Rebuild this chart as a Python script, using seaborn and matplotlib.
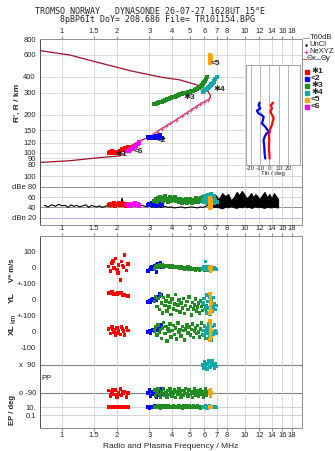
# Dynasonde ionogram: echo traces, amplitudes and echo parameters vs frequency
import numpy as np
import pandas as pd
import matplotlib
matplotlib.use("Agg")
import matplotlib.pyplot as plt
import seaborn as sns
from matplotlib.ticker import FixedLocator, NullLocator

## Data
# frequency axis ticks (MHz)
freq_ticks = [1, 1.5, 2, 3, 4, 5, 6, 7, 8, 10, 12, 14, 16, 18]
freq_labels = ["1", "1.5", "2", "3", "4", "5", "6", "7", "8", "10", "12", "14", "16", "18"]

# model profile (f / MHz, h / km), lower branch up to the nose then back
prof_f = [0.76, 1.1, 1.6, 2.07, 2.27, 2.38, 2.67, 3.03, 3.43, 4.14, 5.0, 5.82, 6.28, 6.44,
          6.50, 6.44, 6.2, 5.47, 4.41, 3.43, 2.35, 1.61, 1.1, 0.76]
prof_h = [83.5, 86, 91, 94, 101.5, 113, 124, 133.5, 152, 179, 215, 248, 262, 272,
          282, 288, 315, 345, 378, 399, 448, 516, 597, 646]
# NeXYZ real heights
ne_f = [2.9, 3.1, 3.3, 3.5, 3.7, 3.9, 4.2, 4.5, 4.8, 5.1, 5.4, 5.7, 6.0, 6.3]
ne_h = [130, 137, 145, 155, 163, 171, 182, 195, 207, 219, 231, 243, 253, 263]

# trace 1 (red)
r_f = [1.80, 1.84, 1.88, 1.92, 1.96, 2.00, 2.04, 2.08, 2.12, 2.16, 2.20, 2.25, 2.30, 1.90, 2.02, 2.14]
r_h = [100, 101, 102, 100, 101, 99, 100, 102, 104, 106, 108, 104, 110, 100, 101, 107]
r_amp = [44, 47, 45, 48, 43, 46, 49, 45, 47, 44, 46, 42, 45, 47, 44, 48]
r_v = [10, -20, 30, 0, 60, -10, 20, -75, 40, 5, 80, -15, 25, 45, -30, 15]
r_yl = [45, 40, 50, 38, 42, 35, 48, 40, 44, 36, 30, 28, 25, 40, 46, 32]
r_xl = [20, -10, 30, 0, -18, 25, 10, -15, 30, 5, -20, 28, 10, 15, -5, 20]
r_pp = [-75, -110, -85, -100, -70, -120, -90, -65, -105, -95, -80, -115, -90, -70, -100, -85]
r_ep = [10, 8, 12, 9, 11, 10, 7, 13, 9, 10, 12, 8, 10, 9, 11, 10]

# trace 2 (blue)
b_f = [2.95, 3.00, 3.05, 3.10, 3.15, 3.20, 3.25, 3.30, 3.35, 3.40, 3.45, 3.50, 3.28, 3.42]
b_h = [133, 131, 132, 130, 131, 132, 130, 131, 130, 132, 131, 130, 136, 137]
b_amp = [44, 47, 45, 48, 46, 49, 45, 47, 44, 46, 48, 45, 43, 47]
b_v = [-20, -10, 0, 10, -5, 15, 5, 20, 25, 10, 30, 5, -25, 15]
b_yl = [-12, -5, -15, 0, 5, -8, 10, 15, 20, 25, 30, 35, -2, 40]
b_xl = [0, 5, -5, 10, 15, 8, 20, 25, 30, 28, 35, 44, 12, 40]
b_pp = [-90, -70, -110, -80, -100, -95, -75, -105, -85, -90, -65, -100, -115, -80]
b_ep = [10, 6, 15, 8, 12, 20, 9, 11, 7, 14, 10, 8, 12, 9]

# trace 3 (green)
g_f = [3.20, 3.25, 3.30, 3.35, 3.40, 3.45, 3.50, 3.55, 3.60, 3.65,
       3.70, 3.75, 3.80, 3.85, 3.90, 3.95, 4.00, 4.06, 4.12, 4.18,
       4.24, 4.30, 4.36, 4.42, 4.48, 4.54, 4.60, 4.67, 4.74, 4.81,
       4.88, 4.95, 5.02, 5.09, 5.16, 5.23, 5.30, 5.37, 5.44, 5.51,
       5.58, 5.65, 5.72, 5.79, 5.86, 5.93, 6.00, 6.08, 6.16, 6.24]
g_h = [242, 244, 246, 249, 250, 253, 254, 257, 258, 261,
       262, 265, 266, 268, 270, 272, 274, 277, 279, 282,
       284, 286, 289, 290, 293, 293, 296, 297, 299, 300,
       302, 303, 305, 307, 308, 311, 314, 318, 321, 326,
       329, 334, 339, 345, 350, 356, 362, 372, 384, 396]
g_amp = [52, 56, 50, 58, 54, 60, 55, 52, 58, 62, 54, 57, 50, 56, 60, 53, 58, 55, 61, 52,
         57, 54, 50, 56, 53, 49, 55, 51, 57, 48, 54, 50, 56, 52, 49, 55, 51, 58, 53, 50,
         56, 52, 59, 54, 57, 60, 55, 58, 62, 56]
g_v = [-5, 10, 15, 5, 20, 8, 12, 18, 6, 14, 10, 16, 8, 12, 4, 10, 14, 6, 9, 2,
       11, 5, 8, 0, 6, -3, 4, -6, 2, -4, 5, -8, 0, -5, -10, -2, -7, -12, -4, -9,
       -6, -14, -8, -3, -11, -6, -15, -9, -5, -12]
g_yl = [-10, 20, -40, 10, -60, 30, -20, -80, 15, -35, -5, -70, 25, -45, -15, -90, 5, -55, -25, 35,
        -65, -30, 0, -75, -20, -50, 10, -85, -35, -10, -60, 20, -40, -95, -15, -55, -30, 5, -70, -45,
        -20, -80, -5, -40, -65, -25, 10, -60, -35, -50]
g_xl = [5, 30, -20, 45, 0, 15, -40, 25, 60, -10, 35, -55, 20, 5, 50, -30, 10, 40, -15, 25,
        -45, 55, 0, 15, -25, 35, 10, -50, 20, 45, -5, 30, -20, 15, 50, -35, 5, 25, -10, 40,
        0, -30, 20, 55, -15, 10, 35, -40, 25, 5]
g_pp = [-70, -110, -85, -60, -100, -120, -80, -95, -65, -105, -90, -115, -75, -100, -60, -85, -110, -95, -70, -120,
        -80, -100, -65, -90, -115, -75, -105, -85, -60, -95, -110, -70, -100, -80, -120, -90, -65, -105, -85, -75,
        -110, -95, -70, -100, -80, -115, -90, -65, -105, -85]
g_ep = [10, 15, 8, 20, 12, 6, 25, 9, 14, 18, 7, 11, 22, 13, 8, 16, 10, 28, 12, 9,
        15, 7, 19, 11, 14, 6, 21, 10, 17, 8, 12, 24, 9, 13, 7, 18, 11, 15, 8, 20,
        10, 13, 6, 16, 12, 9, 14, 22, 10, 8]

# trace 4 (teal, x mode)
t_f = [5.90, 5.96, 6.02, 6.08, 6.14, 6.20, 6.26, 6.32, 6.38, 6.44, 6.50, 6.56, 6.62, 6.68, 6.74, 6.80, 6.90, 7.00]
t_h = [305, 308, 312, 315, 319, 323, 327, 331, 335, 339, 343, 348, 353, 358, 364, 371, 382, 396]
t_amp = [55, 50, 62, 52, 58, 48, 64, 54, 50, 60, 56, 66, 52, 58, 49, 62, 55, 51]
t_v = [-5, 10, -10, 40, 0, -8, 5, -12, 2, -6, 8, -3, -10, 4, -7, 0, -5, -9]
t_yl = [-20, 10, -60, -40, 30, -80, -10, -50, 20, -90, -30, 0, -70, -45, 15, -25, -60, -35]
t_xl = [10, -20, 40, 0, -40, 25, -10, 50, 5, -30, 20, -50, 35, 0, -15, 45, 10, -5]
t_pp = [90, 70, 110, 85, 100, 65, 95, 120, 80, 105, 75, 90, 115, 85, 100, 70, 95, 80]
t_ep = [10, 15, 8, 20, 12, 6, 14, 9, 18, 11, 7, 13, 16, 10, 9, 12, 15, 8]

# trace 5 (orange)
o_f = [6.44, 6.46, 6.48, 6.50, 6.52, 6.47, 6.49, 6.51, 6.45]
o_h = [515, 525, 535, 545, 555, 565, 575, 590, 600]
o_amp = [44, 50, 38, 55, 46, 58, 42, 52, 48]
o_v = [0, -10, -20, -5, 5, -15, -8, -12, -3]
o_yl = [40, 25, 10, -5, -20, -35, -50, -65, -80]
o_xl = [70, 55, 40, 25, 10, -5, -20, -35, -50]
o_pp = [-90, -80, -100, -85, -95, -70, -110, -90, -75]
o_ep = [10, 12, 8, 15, 9, 11, 14, 7, 10]

# trace 6 (magenta)
m_f = [2.28, 2.32, 2.36, 2.40, 2.45, 2.50, 2.55, 2.60, 2.64, 2.62]
m_h = [102, 103, 104, 106, 108, 110, 113, 117, 122, 119]
m_amp = [44, 46, 43, 47, 45, 48, 44, 46, 42, 45]

# background noise (dB)
noise_f = [0.80, 0.84, 0.88, 0.92, 0.96, 1.00, 1.04, 1.08, 1.12, 1.16, 1.20, 1.25, 1.30, 1.35, 1.40,
           1.45, 1.50, 1.55, 1.60, 1.66, 1.72, 1.78, 1.84, 1.90, 1.96, 2.02, 2.08, 2.11, 2.13, 2.16,
           2.22, 2.30, 2.40, 2.50, 2.60, 2.70, 2.80, 2.90, 3.00, 3.10, 3.20, 3.35, 3.50, 3.65, 3.80,
           3.95, 4.10, 4.30, 4.50, 4.70, 4.90, 5.10, 5.30, 5.50, 5.70, 5.90, 6.10, 6.30]
noise_db = [44, 41, 45, 42, 46, 43, 44, 40, 45, 42, 44, 41, 43, 45, 40, 44, 42, 41, 43, 40,
            42, 44, 41, 43, 42, 45, 44, 52, 58, 46, 43, 44, 41, 45, 42, 44, 43, 41, 44, 40,
            42, 41, 40, 42, 40, 41, 39, 40, 41, 39, 40, 41, 40, 39, 41, 40, 42, 44]
band_f = [6.3, 6.6, 6.9, 7.2, 7.5, 7.8, 8.1, 8.4, 8.7, 9.0, 9.3, 9.6, 9.9, 10.2, 10.5, 10.8, 11.1,
          11.4, 11.7, 12.0, 12.4, 12.8, 13.2, 13.6, 14.0, 14.4, 14.8, 15.2]
band_hi = [48, 58, 64, 56, 68, 62, 66, 54, 60, 70, 64, 72, 66, 58, 62, 68, 60, 66, 62, 56,
           64, 70, 60, 66, 58, 68, 62, 56]
band_lo = [40, 40, 41, 40, 38, 41, 40, 42, 40, 39, 41, 40, 42, 40, 41, 39, 40, 42, 40, 41,
           40, 39, 41, 40, 40, 41, 40, 40]

# tilt profiles (deg vs height)
thx_h = [250, 239, 225, 212, 199, 188, 177, 166, 156, 147, 138, 126, 112, 99, 90]
thx = [4.0, 1.8, 2.9, 1.1, 3.2, 4.7, 3.6, 2.9, 1.1, 0.4, -0.4, 0, -0.4, 0, 0.4]
thy_h = [250, 239, 225, 216, 205, 199, 193, 182, 171, 161, 151, 147, 142, 134, 126, 112, 99, 90]
thy = [-10.4, -11.5, -9.7, -13.3, -11.5, -7.9, -6.1, -6.8, -7.9, -4.3, -1.8, 0.4, -3.2, -5.0,
       -6.1, -5.4, -5.0, -4.3]

## Style
RED, BLUE, GREEN, TEAL, ORANGE, MAGENTA = "#ff0000", "#0000ff", "#228b22", "#10aaaa", "#ffa500", "#ff00ff"
PROF, NE = "#a0102c", "#e0508c"
GRID, SPINE = "#d4d4d4", "#909090"

sns.set_style("white")
plt.rcParams["font.family"] = ["Liberation Sans", "DejaVu Sans"]
plt.rcParams["font.size"] = 5.5

W, H = 335, 451
def box(x0, y0, x1, y1):  # pixel box -> figure fraction
    return [x0 / W, 1 - y1 / H, (x1 - x0) / W, (y1 - y0) / H]

def freq_axis(ax, top=True, bottom=False):
    ax.set_xscale("log")
    ax.set_xlim(0.758, 20.5)
    ax.xaxis.set_major_locator(FixedLocator(freq_ticks))
    ax.xaxis.set_minor_locator(NullLocator())
    ax.set_xticklabels(freq_labels)
    ax.tick_params(axis="x", top=top, labeltop=top, bottom=bottom, labelbottom=bottom,
                   length=2, pad=1, color=SPINE)
    ax.grid(axis="x", color=GRID, lw=0.6)
    for s in ax.spines.values():
        s.set_color(SPINE)
        s.set_linewidth(0.7)
    ax.spines["left"].set_color("#505050")

def dots(ax, f, y, color, s=5):
    sns.scatterplot(x=f, y=y, color=color, marker="s", s=s, linewidth=0, ax=ax, zorder=3)

fig = plt.figure(figsize=(W / 100, H / 100), dpi=100)

fig.text(150 / W, 1 - 12 / H, "TROMSO NORWAY   DYNASONDE 26-07-27 1628UT 15°E",
         family="DejaVu Sans Mono", fontsize=6, ha="center", va="center")
fig.text(157 / W, 1 - 20 / H, "8pBP6It DoY= 208.686 File= TR101154.BPG",
         family="DejaVu Sans Mono", fontsize=6, ha="center", va="center")

## Height panel
ax = fig.add_axes(box(40, 39, 302, 167))
freq_axis(ax)
ax.set_yscale("log")
ax.set_ylim(76.7, 800)
hticks = [80, 90, 100, 120, 150, 200, 300, 400, 600, 800]
ax.yaxis.set_major_locator(FixedLocator(hticks))
ax.yaxis.set_minor_locator(NullLocator())
ax.set_yticklabels([str(v) for v in hticks])
ax.tick_params(axis="y", length=2, pad=1, color=SPINE)
ax.grid(axis="y", color=GRID, lw=0.6)
ax.spines["bottom"].set_visible(False)
ax.set_ylabel("R', R / km", fontsize=6, fontweight="bold", labelpad=2)

sns.lineplot(x=prof_f, y=prof_h, sort=False, estimator=None, color=PROF, lw=0.9, ax=ax)
sns.lineplot(x=ne_f, y=ne_h, sort=False, estimator=None, color=NE, lw=0.7,
             marker="+", markersize=3, markeredgewidth=0.7, markeredgecolor=NE, ax=ax)
for f, h, c in [(r_f, r_h, RED), (m_f, m_h, MAGENTA), (b_f, b_h, BLUE),
                (g_f, g_h, GREEN), (t_f, t_h, TEAL), (o_f, o_h, ORANGE)]:
    dots(ax, f, h, c, s=9)

# trace tags: (text, trace f, trace h, anchor index, offset in points)
tags = [("✱1", r_f, r_h, 6, (2.2, -1.6)), ("<2", b_f, b_h, 11, (0, -1.5)),
        ("✱3", g_f, g_h, 31, (0, -3.6)), ("✱4", t_f, t_h, 16, (2.5, -7.6)),
        ("<5", o_f, o_h, 0, (3.6, 0)), ("<6", m_f, m_h, 4, (3.6, -2.4))]
for txt, f, h, i, off in tags:
    ax.annotate(txt, xy=(f[i], h[i]), xytext=off, textcoords="offset points",
                ha="center", va="center", fontsize=6, fontweight="bold", zorder=4)

## Legend (drawn by hand in pixel units)
lg = fig.add_axes(box(302, 32, 335, 114))
lg.set_xlim(302, 335)
lg.set_ylim(114, 32)
lg.axis("off")
lg.plot([303, 309], [38, 38], color="#a0a0a0", lw=0.8)
lg.text(309.5, 38, "T60dB", va="center", fontsize=5.5)
lg.plot([306], [45], "k.", ms=1.5)
lg.text(309.5, 45, "UnCl", va="center", fontsize=5.5)
lg.plot([306], [52], "+", color=NE, ms=3, mew=0.7)
lg.text(309.5, 52, "NeXYZ", va="center", fontsize=5.5)
lg.plot([302.5, 306], [59, 59], color=NE, lw=0.8)
lg.text(306.5, 59, "Θx", va="center", fontsize=5.5)
lg.plot([316, 320], [59, 59], color="#8080ff", lw=0.8)
lg.text(320.5, 59, "Θy", va="center", fontsize=5.5)
for k, (c, txt) in enumerate(zip([RED, BLUE, GREEN, TEAL, ORANGE, MAGENTA],
                                 ["✱1", "<2", "✱3", "✱4", "<5", "<6"])):
    lg.plot([307], [72 + 7 * k], "s", color=c, ms=2.2)
    lg.text(311, 72 + 7 * k, txt, va="center", fontsize=6, fontweight="bold")

## Amplitude panel
axd = fig.add_axes(box(40, 167, 302, 225))
freq_axis(axd, top=False)
axd.set_ylim(6, 118)
axd.set_yticks([20, 40, 60, 80, 100])
axd.set_yticklabels(["dBn 20", "40", "60", "dBe 80", "100"])
axd.tick_params(axis="y", length=2, pad=1, color=SPINE)
axd.spines["top"].set_visible(False)
axd.patch.set_alpha(0)
for lvl, c in [(100, GRID), (80, "#909090"), (60, GRID), (40, "#909090"), (20, "#b4b4e4")]:
    axd.axhline(lvl, color=c, lw=0.7, zorder=0)
axd.fill_between(band_f, band_lo, band_hi, color="black", lw=0.6, zorder=2)
sns.lineplot(x=noise_f, y=noise_db, sort=False, estimator=None, color="black", lw=0.8, ax=axd)
for f, a, c in [(r_f, r_amp, RED), (m_f, m_amp, MAGENTA), (b_f, b_amp, BLUE),
                (g_f, g_amp, GREEN), (t_f, t_amp, TEAL), (o_f, o_amp, ORANGE)]:
    dots(axd, f, a, c, s=6)

## Tilt inset (added last so it sits over both upper panels)
axi = fig.add_axes(box(246, 65, 300, 165))
axi.set_facecolor("white")
axi.set_yscale("log")
axi.set_ylim(80, 498)
axi.set_xlim(-25, 33)
axi.set_xticks([-20, -10, 0, 10, 20])
axi.set_xticklabels(["-20", "-10", "0", "10", "20"], fontsize=4.5)
axi.yaxis.set_major_locator(NullLocator())
axi.yaxis.set_minor_locator(NullLocator())
axi.tick_params(length=0, pad=1)
axi.grid(axis="x", color="#a8a8b4", lw=0.6)
for s in axi.spines.values():
    s.set_color("#a8a8b4")
axi.set_xlabel("Tilt / deg", fontsize=4.5, labelpad=0)
sns.lineplot(x=thy, y=thy_h, sort=False, estimator=None, color=BLUE, lw=1.6, ax=axi)
sns.lineplot(x=thx, y=thx_h, sort=False, estimator=None, color=RED, lw=1.6, ax=axi)

## Echo parameter panel (stacked bands, 1 unit = 100 m/s or 100 km)
V0, YL0, XL0 = 10, 8, 6
PP_MID, PP_HALF = 3.065, 0.875
EP_LO = 0.81

axp = fig.add_axes(box(40, 236, 302, 428))
freq_axis(axp, top=True, bottom=True)
axp.set_ylim(0, 12)
axp.set_yticks([11, 10, 9, 8, 7, 6, 5, PP_MID + PP_HALF, PP_MID - PP_HALF, EP_LO + 0.5, EP_LO])
axp.set_yticklabels(["100", "0", "+-100", "0", "+-100", "0", "-100", "x  90", "o -90", "10.", "0.1"])
axp.tick_params(axis="y", length=2, pad=1, color=SPINE)
for lvl, c in [(PP_MID + PP_HALF, "#808080"), (PP_MID - PP_HALF, "#808080"),
               (EP_LO + 0.5, GRID), (EP_LO, GRID)]:
    axp.axhline(lvl, color=c, lw=0.8, zorder=0)

rows = []
traces = [("1", r_f, r_v, r_yl, r_xl, r_pp, r_ep), ("2", b_f, b_v, b_yl, b_xl, b_pp, b_ep),
          ("3", g_f, g_v, g_yl, g_xl, g_pp, g_ep), ("4", t_f, t_v, t_yl, t_xl, t_pp, t_ep),
          ("5", o_f, o_v, o_yl, o_xl, o_pp, o_ep)]
for name, f, v, yl, xl, pp, ep in traces:
    f = np.array(f)
    ys = [V0 + np.array(v) / 100, YL0 + np.array(yl) / 100, XL0 + np.array(xl) / 100,
          PP_MID + np.array(pp) / 90 * PP_HALF, EP_LO + (np.log10(ep) + 1) * 0.25]
    for y in ys:
        rows.append(pd.DataFrame({"f": f, "y": y, "trace": name}))
echo = pd.concat(rows, ignore_index=True)
sns.scatterplot(data=echo, x="f", y="y", hue="trace", marker="s", s=6, linewidth=0,
                palette={"1": RED, "2": BLUE, "3": GREEN, "4": TEAL, "5": ORANGE},
                legend=False, ax=axp, zorder=3)
axp.set_ylabel("")
axp.set_xlabel("Radio and Plasma Frequency / MHz", fontsize=6, labelpad=3)

# side labels for the stacked bands
fig.text(12 / W, 1 - 270 / H, "V* m/s", rotation=90, ha="center", va="center", fontsize=5.5, fontweight="bold")
fig.text(12 / W, 1 - 298 / H, "YL", rotation=90, ha="center", va="center", fontsize=6, fontweight="bold")
fig.text(14 / W, 1 - 318 / H, "km", rotation=90, ha="center", va="center", fontsize=5)
fig.text(12 / W, 1 - 330 / H, "XL", rotation=90, ha="center", va="center", fontsize=6, fontweight="bold")
fig.text(47 / W, 1 - 379 / H, "PP", ha="center", va="center", fontsize=5.5)
fig.text(13 / W, 1 - 410 / H, "EP / deg", rotation=90, ha="center", va="center", fontsize=5.5, fontweight="bold")

fig.savefig("out.png", dpi=100)
